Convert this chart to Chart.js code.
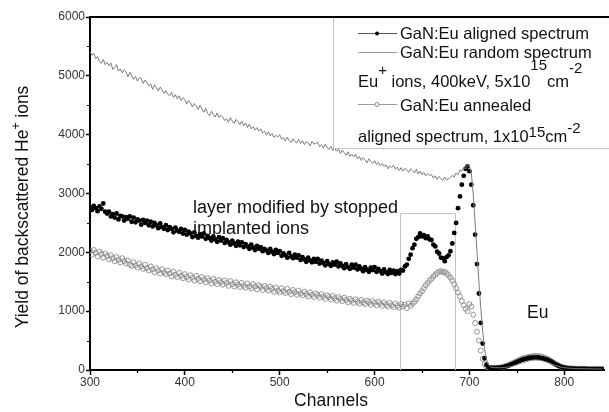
<!DOCTYPE html>
<html>
<head>
<meta charset="utf-8">
<script src="https://cdn.jsdelivr.net/npm/chart.js@4.4.1/dist/chart.umd.min.js"></script>
<style>
  html, body { margin: 0; padding: 0; background: #fff; }
</style>
</head>
<body>
<canvas id="rbsChart" width="609" height="412"></canvas>
<script>
/* ========= DATA (yield per channel, channels 300..840, step 2) ========= */

const firstChannel = 300;
const channelStep = 2;

const randomYield = [
  5410, 5350, 5380, 5290, 5330, 5240, 5210, 5280, 5190, 5230,
  5170, 5220, 5110, 5140, 5190, 5080, 5120, 5050, 5100, 5070,
  4980, 5060, 5000, 4940, 4990, 4910, 4970, 4950, 4870, 4930,
  4890, 4830, 4860, 4770, 4850, 4800, 4740, 4810, 4760, 4700,
  4750, 4690, 4660, 4720, 4630, 4680, 4610, 4660, 4580, 4630,
  4600, 4520, 4580, 4540, 4470, 4530, 4490, 4430, 4500, 4440,
  4380, 4450, 4360, 4320, 4400, 4340, 4300, 4370, 4290, 4330,
  4300, 4240, 4270, 4210, 4290, 4230, 4190, 4260, 4220, 4170,
  4230, 4150, 4200, 4120, 4180, 4100, 4140, 4080, 4120, 4060,
  4100, 4030, 4060, 3990, 4050, 3980, 4020, 3950, 3990, 3960,
  4000, 3920, 3950, 3890, 3960, 3900, 3870, 3930, 3880, 3860,
  3920, 3850, 3900, 3830, 3880, 3860, 3810, 3890, 3840, 3850,
  3870, 3800, 3830, 3770, 3840, 3780, 3750, 3800, 3730, 3770,
  3720, 3760, 3680, 3740, 3690, 3650, 3710, 3630, 3670, 3620,
  3670, 3590, 3630, 3560, 3610, 3570, 3520, 3590, 3540, 3510,
  3560, 3490, 3530, 3470, 3510, 3460, 3490, 3420, 3470, 3440,
  3480, 3410, 3450, 3390, 3440, 3380, 3430, 3400, 3360, 3420,
  3390, 3350, 3410, 3330, 3380, 3320, 3360, 3300, 3340, 3310,
  3320, 3260, 3300, 3240, 3290, 3250, 3220, 3280, 3230, 3250,
  3270, 3310, 3280, 3350, 3320, 3400, 3380, 3440, 3420, 3490,
  3470, 3350, 3000, 2500, 2000, 1500, 1050, 650, 350, 180,
  90, 55, 45, 40, 40, 38, 36, 40, 42, 45,
  50, 55, 60, 70, 80, 90, 100, 110, 120, 130,
  140, 150, 160, 165, 170, 170, 168, 165, 160, 150,
  140, 130, 120, 105, 95, 80, 70, 60, 50, 45,
  40, 36, 33, 30, 28, 26, 25, 24, 23, 22,
  22, 21, 20, 20, 20, 19, 19, 18, 18, 18,
  18
];

const alignedYield = [
  2760, 2720, 2790, 2750, 2700, 2780, 2740, 2830, 2690, 2660,
  2690, 2610, 2650, 2590, 2660, 2560, 2620, 2610, 2540, 2600,
  2570, 2610, 2520, 2590, 2510, 2560, 2540, 2470, 2550, 2500,
  2540, 2460, 2520, 2440, 2500, 2460, 2410, 2490, 2430, 2400,
  2460, 2380, 2430, 2400, 2340, 2420, 2370, 2350, 2400, 2320,
  2380, 2300, 2350, 2320, 2260, 2340, 2280, 2250, 2310, 2270,
  2320, 2230, 2280, 2240, 2200, 2270, 2220, 2180, 2260, 2200,
  2240, 2160, 2210, 2170, 2130, 2200, 2150, 2110, 2180, 2120,
  2170, 2090, 2140, 2100, 2060, 2130, 2080, 2040, 2110, 2060,
  2090, 2020, 2060, 2030, 1990, 2060, 2010, 1970, 2040, 1990,
  2020, 1940, 1980, 1950, 1910, 1990, 1930, 1900, 1960, 1910,
  1950, 1870, 1920, 1880, 1840, 1910, 1860, 1830, 1890, 1840,
  1890, 1810, 1860, 1820, 1780, 1850, 1800, 1770, 1830, 1790,
  1840, 1760, 1810, 1770, 1730, 1800, 1750, 1720, 1790, 1740,
  1790, 1710, 1760, 1720, 1680, 1750, 1700, 1670, 1740, 1700,
  1750, 1670, 1720, 1680, 1640, 1710, 1660, 1630, 1700, 1650,
  1690, 1630, 1680, 1640, 1700, 1690, 1760, 1790, 1890, 1960,
  2070, 2130, 2230, 2260, 2320, 2270, 2290, 2240, 2270, 2220,
  2210, 2130, 2100, 2010, 1980, 1910, 1900, 1850, 1920, 1950,
  2020, 2150, 2330, 2500, 2750, 2950, 3150, 3300, 3420, 3460,
  3380, 3150, 2800, 2300, 1800, 1300, 800, 450, 200, 90,
  50, 40, 35, 35, 35, 38, 40, 45, 50, 60,
  70, 80, 95, 105, 120, 135, 150, 165, 175, 185,
  195, 200, 210, 205, 215, 210, 215, 205, 200, 195,
  185, 175, 160, 145, 125, 105, 88, 72, 58, 46,
  38, 32, 28, 25, 23, 21, 20, 19, 18, 18,
  17, 17, 16, 16, 16, 15, 15, 15, 15, 15,
  15
];

const annealedYield = [
  2020, 1960, 2040, 1990, 1930, 2010, 1970, 1910, 1980, 1940,
  1880, 1950, 1900, 1850, 1920, 1870, 1830, 1900, 1850, 1810,
  1860, 1790, 1770, 1830, 1780, 1740, 1810, 1760, 1720, 1790,
  1730, 1690, 1760, 1710, 1660, 1730, 1690, 1640, 1710, 1660,
  1630, 1690, 1640, 1590, 1670, 1620, 1580, 1650, 1600, 1560,
  1630, 1580, 1540, 1610, 1570, 1520, 1600, 1550, 1510, 1580,
  1540, 1490, 1560, 1520, 1470, 1550, 1500, 1460, 1530, 1490,
  1450, 1520, 1480, 1430, 1510, 1460, 1420, 1490, 1450, 1410,
  1480, 1430, 1400, 1470, 1420, 1390, 1460, 1420, 1370, 1440,
  1410, 1360, 1430, 1390, 1350, 1420, 1380, 1330, 1400, 1350,
  1320, 1390, 1340, 1310, 1380, 1330, 1290, 1360, 1320, 1280,
  1350, 1300, 1270, 1330, 1290, 1250, 1320, 1280, 1240, 1300,
  1270, 1230, 1290, 1250, 1210, 1270, 1240, 1200, 1260, 1220,
  1180, 1240, 1210, 1170, 1230, 1190, 1150, 1210, 1180, 1140,
  1200, 1160, 1130, 1190, 1150, 1120, 1180, 1150, 1110, 1170,
  1140, 1100, 1160, 1130, 1090, 1150, 1110, 1080, 1140, 1100,
  1070, 1130, 1090, 1060, 1120, 1080, 1110, 1050, 1130, 1090,
  1130, 1160, 1200, 1250, 1300, 1340, 1390, 1440, 1480, 1520,
  1550, 1590, 1620, 1650, 1670, 1680, 1660, 1670, 1640, 1610,
  1570, 1520, 1460, 1390, 1320, 1250, 1170, 1100, 1040, 1000,
  1120, 1080, 940, 800, 650, 500, 330, 190, 100, 60,
  40, 35, 30, 30, 32, 35, 40, 45, 55, 65,
  75, 90, 105, 120, 135, 150, 165, 180, 192, 205,
  212, 220, 226, 232, 236, 238, 236, 232, 226, 218,
  205, 190, 172, 152, 132, 112, 93, 76, 60, 48,
  42, 36, 32, 28, 26, 24, 23, 22, 21, 20,
  20, 19, 19, 18, 18, 18, 17, 17, 17, 17,
  17
];

const xMajorTicks = [300, 400, 500, 600, 700, 800];
const xMinorTicks = [350, 450, 550, 650, 750];
const yMajorTicks = [0, 1000, 2000, 3000, 4000, 5000, 6000];
const yMinorTicks = [500, 1500, 2500, 3500, 4500, 5500];

// channel window of the "layer modified" box and its top (counts)
const layerBox = [627, 685];
const layerTop = 2670;

/* ========= HELPERS ========= */

const FONT = '"Liberation Sans", Arial, Helvetica, sans-serif';
const toPoints = ys => ys.map((v, i) => ({ x: firstChannel + i * channelStep, y: v }));

// parts: [text, size, raise]
function drawRich(ctx, parts, x, y, align) {
  let w = 0;
  parts.forEach(([t, s]) => { ctx.font = s + 'px ' + FONT; w += ctx.measureText(t).width; });
  let cx = align === 'center' ? x - w / 2 : x;
  ctx.textAlign = 'left';
  ctx.textBaseline = 'alphabetic';
  parts.forEach(([t, s, r]) => {
    ctx.font = s + 'px ' + FONT;
    ctx.fillText(t, cx, y - (r || 0));
    cx += ctx.measureText(t).width;
  });
}

const decor = {
  id: 'decor',
  beforeDatasetsDraw(chart) {
    const { ctx, scales: { x, y } } = chart;
    const l = Math.round(x.getPixelForValue(layerBox[0])) + 0.5;
    const r = Math.round(x.getPixelForValue(layerBox[1])) + 0.5;
    const t = Math.round(y.getPixelForValue(layerTop)) + 0.5;
    const b = y.getPixelForValue(0);
    ctx.save();
    ctx.strokeStyle = '#c4c4c4';
    ctx.lineWidth = 1;
    ctx.beginPath();
    ctx.moveTo(l, b); ctx.lineTo(l, t); ctx.lineTo(r, t); ctx.lineTo(r, b);
    ctx.stroke();
    ctx.restore();
  },
  afterDatasetsDraw(chart) {
    const { ctx, chartArea } = chart;
    const W = chart.width;
    const boxLeft = 333, boxBottom = 148;
    ctx.save();
    // legend box
    ctx.fillStyle = '#fff';
    ctx.fillRect(boxLeft, chartArea.top, W - boxLeft, boxBottom - chartArea.top);
    ctx.strokeStyle = '#c4c4c4';
    ctx.lineWidth = 1;
    ctx.strokeRect(boxLeft + 0.5, chartArea.top + 0.5, W, boxBottom - chartArea.top);

    const sample = (yy, color) => {
      ctx.strokeStyle = color; ctx.lineWidth = 1;
      ctx.beginPath(); ctx.moveTo(358, yy + 0.5); ctx.lineTo(397, yy + 0.5); ctx.stroke();
    };
    sample(33, '#555');
    ctx.beginPath(); ctx.arc(377, 33.5, 2, 0, Math.PI * 2); ctx.fillStyle = '#000'; ctx.fill();
    ctx.fillStyle = '#111';
    drawRich(ctx, [['GaN:Eu aligned spectrum', 16.5]], 400, 39);
    sample(52, '#9a9a9a');
    drawRich(ctx, [['GaN:Eu random spectrum', 16.5]], 400, 58);
    drawRich(ctx, [['Eu', 16.5], ['+', 15, 12], [' ions, 400keV, 5x10', 16.5], ['15', 15, 17],
                   ['cm', 16.5], ['-2', 15, 14]], 358, 87);
    sample(104, '#9a9a9a');
    ctx.beginPath(); ctx.arc(377, 104.5, 2, 0, Math.PI * 2);
    ctx.fillStyle = '#fff'; ctx.fill(); ctx.strokeStyle = '#8a8a8a'; ctx.stroke();
    ctx.fillStyle = '#111';
    drawRich(ctx, [['GaN:Eu annealed', 16.5]], 400, 111);
    drawRich(ctx, [['aligned spectrum, 1x10', 16.5], ['15', 15, 5], ['cm', 16.5], ['-2', 15, 9]], 358, 142);

    // annotations
    drawRich(ctx, [['layer modified by stopped', 18]], 193, 213);
    drawRich(ctx, [['implanted ions', 18]], 193, 234);
    drawRich(ctx, [['Eu', 17.5]], 527, 318);
    ctx.restore();
  },
  afterDraw(chart) {
    const { ctx, chartArea, scales: { x, y } } = chart;
    ctx.save();
    // top frame line
    ctx.strokeStyle = '#000';
    ctx.lineWidth = 2;
    ctx.beginPath();
    ctx.moveTo(chartArea.left - 1, chartArea.top);
    ctx.lineTo(chart.width, chartArea.top);
    ctx.stroke();
    // minor ticks
    ctx.lineWidth = 1.2;
    ctx.beginPath();
    xMinorTicks.forEach(v => {
      const px = Math.round(x.getPixelForValue(v)) + 0.5;
      ctx.moveTo(px, chartArea.bottom); ctx.lineTo(px, chartArea.bottom + 3);
    });
    yMinorTicks.forEach(v => {
      const py = Math.round(y.getPixelForValue(v)) + 0.5;
      ctx.moveTo(chartArea.left, py); ctx.lineTo(chartArea.left - 3, py);
    });
    ctx.stroke();
    // axis titles
    ctx.fillStyle = '#111';
    drawRich(ctx, [['Channels', 17.5]], 331, 406, 'center');
    ctx.translate(28, 207);
    ctx.rotate(-Math.PI / 2);
    drawRich(ctx, [['Yield of backscattered He', 17.5], ['+', 12, 8], [' ions', 17.5]], 0, 0, 'center');
    ctx.restore();
  }
};

/* ========= RBS SPECTRA ========= */

const ctxEl = document.getElementById('rbsChart');

new Chart(ctxEl, {
  type: 'scatter',
  data: {
    datasets: [
      {
        label: 'GaN:Eu random spectrum',
        data: toPoints(randomYield),
        showLine: true,
        borderColor: '#7c7c7c',
        borderWidth: 1,
        pointRadius: 0,
        order: 0
      },
      {
        label: 'GaN:Eu aligned spectrum',
        data: toPoints(alignedYield),
        showLine: false,
        pointRadius: 2.4,
        pointBackgroundColor: '#000',
        pointBorderWidth: 0,
        order: 1
      },
      {
        label: 'GaN:Eu annealed',
        data: toPoints(annealedYield),
        showLine: false,
        pointRadius: 2.5,
        pointBackgroundColor: 'rgba(255,255,255,0)',
        pointBorderColor: '#8a8a8a',
        pointBorderWidth: 0.9,
        order: 2
      }
    ]
  },
  options: {
    responsive: false,
    animation: false,
    layout: { padding: { top: 17, right: 0, left: 0, bottom: 0 } },
    plugins: { legend: { display: false }, tooltip: { enabled: false } },
    scales: {
      x: {
        type: 'linear',
        min: 300,
        max: 842,
        afterBuildTicks: s => { s.ticks = xMajorTicks.map(v => ({ value: v })); },
        afterFit: s => { s.height = 42; },
        grid: { drawOnChartArea: false, tickLength: 5, tickColor: '#000', tickWidth: 1.5 },
        border: { color: '#000', width: 2 },
        ticks: { font: { size: 12, family: FONT }, color: '#333', padding: 0, maxRotation: 0,
                 autoSkip: false, callback: v => String(v) }
      },
      y: {
        min: 0,
        max: 6000,
        afterBuildTicks: s => { s.ticks = yMajorTicks.map(v => ({ value: v })); },
        afterFit: s => { s.width = 90; },
        grid: { drawOnChartArea: false, tickLength: 4, tickColor: '#000', tickWidth: 1.5 },
        border: { color: '#000', width: 2 },
        ticks: { font: { size: 12, family: FONT }, color: '#333', padding: 1, callback: v => String(v) }
      }
    }
  },
  plugins: [decor]
});
</script>
</body>
</html>
